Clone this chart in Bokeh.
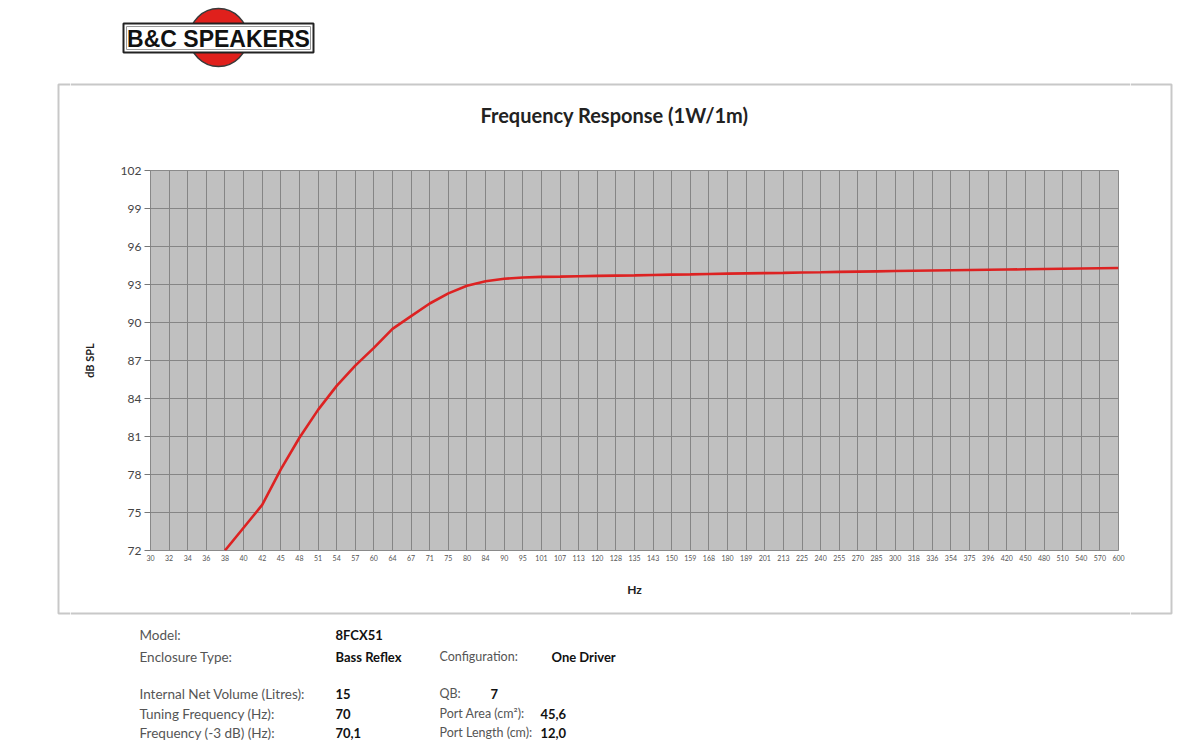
import numpy as np
from bokeh.plotting import figure
from bokeh.layouts import column, row
from bokeh.models import FixedTicker, Range1d
from bokeh.core.properties import value
from bokeh.embed import file_html
from bokeh.resources import INLINE

# ---------------- data ----------------
freq_labels = ["30", "32", "34", "36", "38", "40", "42", "45", "48", "51",
               "54", "57", "60", "64", "67", "71", "75", "80", "84", "90",
               "95", "101", "107", "113", "120", "128", "135", "143", "150", "159",
               "168", "180", "189", "201", "213", "225", "240", "255", "270", "285",
               "300", "318", "336", "354", "375", "396", "420", "450", "480", "510",
               "540", "570", "600"]
nan = float("nan")
spl_db = [nan, nan, nan, nan, 72.0, 73.8, 75.6, 78.4, 80.9, 83.1,
          85.0, 86.6, 88.0, 89.5, 90.5, 91.5, 92.3, 92.9, 93.25, 93.45,
          93.55, 93.6, 93.62, 93.65, 93.68, 93.7, 93.72, 93.75, 93.78, 93.8,
          93.83, 93.86, 93.88, 93.9, 93.92, 93.95, 93.97, 94.0, 94.02, 94.04,
          94.06, 94.08, 94.1, 94.12, 94.14, 94.16, 94.18, 94.2, 94.22, 94.24,
          94.26, 94.28, 94.3]
y_ticks = [72, 75, 78, 81, 84, 87, 90, 93, 96, 99, 102]

chart_title = "Frequency Response (1W/1m)"
spec_labels_left = ["Model:", "Enclosure Type:", "Internal  Net Volume (Litres):",
                    "Tuning Frequency (Hz):", "Frequency (-3 dB) (Hz):"]
spec_values_left = ["8FCX51", "Bass Reflex", "15", "70", "70,1"]
spec_labels_right = ["Configuration:", "QB:", "Port Area (cm²):", "Port Length (cm):"]
spec_values_right = ["One Driver", "7", "45,6", "12,0"]

# ---------------- layout constants (page pixels) ----------------
W, H = 1193, 752
FONT = "Lato"
BOX_L, BOX_R, BOX_T, BOX_B = 58, 1171, 84, 613
BOX_COLOR = "#c8c8c8"
LEFT_W, RIGHT_W = 70, 63
CX0, CX1 = LEFT_W, W - RIGHT_W          # centre column spans these x
TOP_H = 160                             # logo + title band
MID_H = 450                             # chart band
BOT_H = H - 2 - TOP_H - MID_H           # spec band


def deco(x0, x1, y0, y1):
    """Blank figure whose data space equals page pixels (y downwards)."""
    f = figure(width=x1 - x0, height=y1 - y0, output_backend="svg",
               toolbar_location=None,
               x_range=Range1d(x0, x1), y_range=Range1d(y1, y0),
               x_axis_type=None, y_axis_type=None, min_border=0,
               min_border_left=0, min_border_right=0, min_border_top=0,
               min_border_bottom=0)
    f.outline_line_color = None
    f.background_fill_color = "white"
    f.border_fill_color = "white"
    f.xgrid.visible = False
    f.ygrid.visible = False
    return f


# ---------------- full-height side strips (box sides) ----------------
left = deco(0, LEFT_W, 0, H - 2)
left.line([LEFT_W, BOX_L, BOX_L, LEFT_W], [BOX_T, BOX_T, BOX_B, BOX_B],
          line_color=BOX_COLOR, line_width=2)
right = deco(CX1, W, 0, H - 2)
right.line([CX1, BOX_R, BOX_R, CX1], [BOX_T, BOX_T, BOX_B, BOX_B],
           line_color=BOX_COLOR, line_width=2)

# ---------------- top band ----------------
top = deco(CX0, CX1, 0, TOP_H)
top.line([CX0, CX1], [BOX_T, BOX_T], line_color=BOX_COLOR, line_width=2)
top.circle(x=[218], y=[37], radius=29, fill_color="#e0201c",
           line_color="#3a3a3a", line_width=1.5)
top.quad(left=[123], right=[313], top=[23], bottom=[52], fill_color="white",
         line_color="#222222", line_width=2)
top.quad(left=[126], right=[310], top=[26], bottom=[49], fill_alpha=0,
         line_color="#9a9a9a", line_width=1)
top.text(x=[218], y=[38.5], text=["B&C SPEAKERS"],
         text_font=value("Liberation Sans"), text_font_style="bold",
         text_font_size="23px", text_color="#111111", text_align="center",
         text_baseline="middle")
top.text(x=[614], y=[114], text=[chart_title], text_font=value(FONT),
         text_font_style="bold", text_font_size="20px", text_color="#222222",
         text_align="center", text_baseline="middle")

# ---------------- chart ----------------
x_idx = np.arange(len(freq_labels))
y_vals = np.array(spl_db, dtype=float)
p = figure(width=CX1 - CX0, height=MID_H, output_backend="svg",
           toolbar_location=None,
           x_range=Range1d(0, len(freq_labels) - 1), y_range=Range1d(72, 102),
           min_border_left=150 - CX0, min_border_right=CX1 - 1118,
           min_border_top=170 - TOP_H, min_border_bottom=(TOP_H + MID_H) - 550)
p.background_fill_color = "#c0c0c0"
p.border_fill_color = "white"
p.outline_line_color = "#8a8a8a"
p.outline_line_width = 1

p.line(x_idx, y_vals, line_color="#dd2222", line_width=2.6)

p.xaxis.ticker = FixedTicker(ticks=list(range(len(freq_labels))))
p.xaxis.major_label_overrides = {i: lab for i, lab in enumerate(freq_labels)}
p.xaxis.major_label_text_font = FONT
p.xaxis.major_label_text_font_size = "7px"
p.xaxis.major_label_text_color = "#555555"
p.xaxis.major_label_standoff = 4
p.xaxis.major_tick_out = 0
p.xaxis.major_tick_in = 0
p.xaxis.minor_tick_line_color = None
p.xaxis.axis_line_color = None
p.xaxis.axis_label = "Hz"
p.xaxis.axis_label_text_font = FONT
p.xaxis.axis_label_text_font_style = "bold"
p.xaxis.axis_label_text_font_size = "12px"
p.xaxis.axis_label_text_color = "#222222"
p.xaxis.axis_label_standoff = 18

p.yaxis.ticker = FixedTicker(ticks=y_ticks)
p.yaxis.major_label_text_font = FONT
p.yaxis.major_label_text_font_size = "12px"
p.yaxis.major_label_text_color = "#444444"
p.yaxis.major_label_standoff = 3
p.yaxis.major_tick_out = 6
p.yaxis.major_tick_in = 0
p.yaxis.major_tick_line_color = "#777777"
p.yaxis.minor_tick_line_color = None
p.yaxis.axis_line_color = "#888888"
p.yaxis.axis_label = "dB SPL"
p.yaxis.axis_label_text_font = FONT
p.yaxis.axis_label_text_font_style = "bold"
p.yaxis.axis_label_text_font_size = "11px"
p.yaxis.axis_label_text_color = "#222222"
p.yaxis.axis_label_standoff = 22

p.xgrid.ticker = FixedTicker(ticks=list(range(len(freq_labels))))
p.ygrid.ticker = FixedTicker(ticks=y_ticks)
for g in (p.xgrid, p.ygrid):
    g.grid_line_color = "#858585"
    g.grid_line_width = 1
    g.grid_line_alpha = 1.0

# ---------------- bottom band ----------------
y_b0 = TOP_H + MID_H
bot = deco(CX0, CX1, y_b0, y_b0 + BOT_H)
bot.line([CX0, CX1], [BOX_B, BOX_B], line_color=BOX_COLOR, line_width=2)
row_y_left = [634, 656, 693, 713, 732]
row_y_right = [656, 693, 713, 732]
val_x_right = [551, 490, 540, 540]
bot.text(x=[139] * len(spec_labels_left), y=row_y_left, text=spec_labels_left,
         text_font=value(FONT), text_font_size="13.5px", text_color="#555555",
         text_baseline="middle")
bot.text(x=[335] * len(spec_values_left), y=row_y_left, text=spec_values_left,
         text_font=value(FONT), text_font_style="bold", text_font_size="13px",
         text_color="#111111", text_baseline="middle")
bot.text(x=[439] * len(spec_labels_right), y=row_y_right, text=spec_labels_right,
         text_font=value(FONT), text_font_size="12.5px", text_color="#555555",
         text_baseline="middle")
bot.text(x=val_x_right, y=row_y_right, text=spec_values_right,
         text_font=value(FONT), text_font_style="bold", text_font_size="13px",
         text_color="#111111", text_baseline="middle")

# wrap the chart in its own container so the bands are not frame-aligned to it
layout = row(left, column(top, row(p), bot), right)
open("out.html", "w").write(file_html(layout, INLINE))
